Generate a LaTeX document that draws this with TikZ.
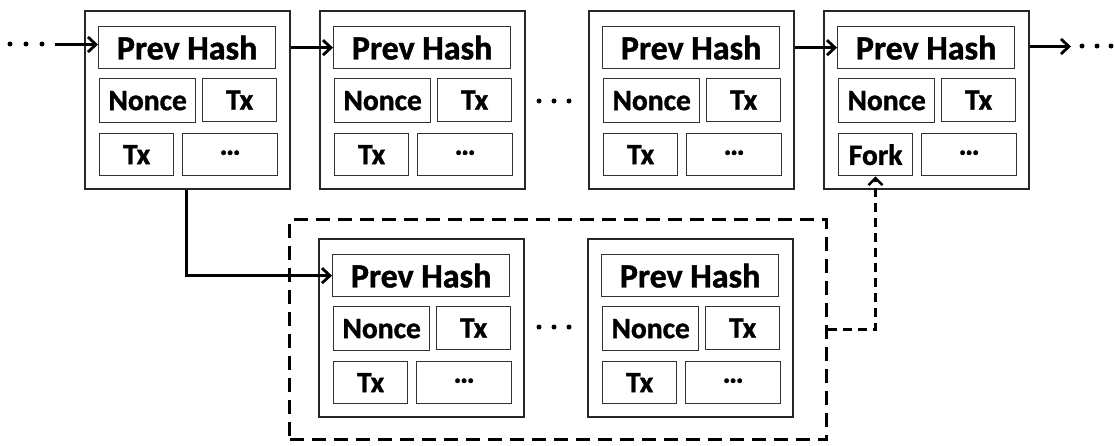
\documentclass[tikz,border=0pt]{standalone}
\usepackage{fontspec}
\setmainfont{Carlito}[BoldFeatures={FakeBold=1.2}]
\usetikzlibrary{arrows.meta}

\tikzset{
  blockframe/.style={draw=black!85, line width=2pt, anchor=north west, inner sep=0pt},
  field/.style={draw=black!80, line width=1.3pt, anchor=north west, inner sep=0pt,
    font=\bfseries\fontsize{29.5}{29.5}\selectfont},
  hashfield/.style={field, font=\bfseries\fontsize{34}{34}\selectfont},
  link/.style={line width=2.8pt, -{Straight Barb[length=8pt,width=15pt,line width=2.8pt]}},
  forklink/.style={line width=2.6pt, dash pattern=on 9pt off 6pt,
    -{Straight Barb[length=7pt,width=14pt,line width=2.6pt]}},
  forkregion/.style={draw, line width=3.3pt, dash pattern=on 14pt off 8pt},
  chaindot/.style={circle, fill=black, inner sep=0pt, minimum size=5pt}
}

% one block of the chain: name, top-left x, top-left y, field at bottom left
\newcommand{\chainblock}[4]{%
  \node[blockframe, minimum width=205pt, minimum height=178pt] (#1) at (#2,#3) {};
  \node[hashfield, minimum width=177pt, minimum height=42pt] (#1-hash) at (#2+14,#3+16) {Prev Hash};
  \node[field, minimum width=96pt, minimum height=44pt] (#1-nonce) at (#2+15,#3+68) {Nonce};
  \node[field, minimum width=74pt, minimum height=43pt] (#1-tx) at (#2+118,#3+68) {Tx};
  \node[field, minimum width=74pt, minimum height=42pt] (#1-low) at (#2+15,#3+123) {#4};
  \node[field, minimum width=95pt, minimum height=42pt] (#1-more) at (#2+98,#3+123) {\raisebox{4pt}{…}};
}

\begin{document}
\begin{tikzpicture}[x=1pt, y=-1pt]
  \useasboundingbox (0,0) rectangle (1115,445);

  % main chain
  \chainblock{b1}{84}{10}{Tx}
  \chainblock{b2}{319}{10}{Tx}
  \chainblock{b3}{588}{10}{Tx}
  \chainblock{b4}{823}{10}{Fork}

  % side branch
  \chainblock{b5}{318}{238}{Tx}
  \chainblock{b6}{587}{238}{Tx}

  % region holding the side branch
  \node[forkregion, anchor=north west, inner sep=0pt, minimum width=537pt, minimum height=220pt] (region) at (288,218) {};

  % ellipses standing for omitted blocks
  \foreach \i/\x/\y in {l1/10/44, l2/26/44, l3/42/44,
                        m1/539/101, m2/554/101, m3/569/101,
                        n1/539/327, n2/554/327, n3/569/327,
                        r1/1082/46, r2/1097/46, r3/1111/46}
    \node[chaindot] (dot-\i) at (\x,\y) {};
  \coordinate (chain-in) at (55,44.5);
  \coordinate (chain-out) at (1071,46.5);

  % hash links
  \draw[link] (chain-in) -- (b1-hash.west |- chain-in);
  \draw[link] (b1.east |- b2-hash.west) -- (b2-hash.west);
  \draw[link] (b3.east |- b4-hash.west) -- (b4-hash.west);
  \draw[link] (b4.east |- chain-out) -- (chain-out);
  \draw[link] (b1.south -| 186.5,0) |- (b5-hash.west);

  % fork reference back into the main chain
  \coordinate (fork-turn) at (875.5,329.5);
  \draw[forklink] (region.east |- fork-turn) -- (fork-turn) -- (b4-low.south -| fork-turn);
\end{tikzpicture}
\end{document}
